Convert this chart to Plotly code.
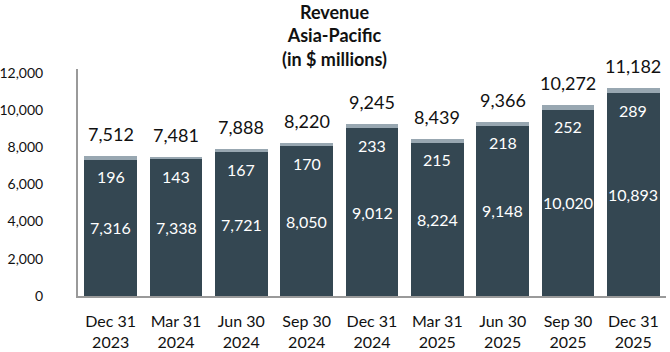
import plotly.graph_objects as go

categories = ["Dec 31<br>2023", "Mar 31<br>2024", "Jun 30<br>2024", "Sep 30<br>2024",
              "Dec 31<br>2024", "Mar 31<br>2025", "Jun 30<br>2025", "Sep 30<br>2025",
              "Dec 31<br>2025"]
base_values = [7316, 7338, 7721, 8050, 9012, 8224, 9148, 10020, 10893]
top_values = [196, 143, 167, 170, 233, 215, 218, 252, 289]
totals = [7512, 7481, 7888, 8220, 9245, 8439, 9366, 10272, 11182]
y_ticks = [0, 2000, 4000, 6000, 8000, 10000, 12000]

FONT = "Lato"
DARK = "#344752"
LIGHT = "#98A7B1"

fig = go.Figure()
fig.add_trace(go.Bar(
    x=categories, y=base_values, marker=dict(color=DARK, line=dict(width=0)),
    hoverinfo="skip",
))
fig.add_trace(go.Bar(
    x=categories, y=top_values, marker=dict(color=LIGHT, line=dict(width=0)),
    hoverinfo="skip",
))

for c, b, t, tot in zip(categories, base_values, top_values, totals):
    fig.add_annotation(x=c, y=b / 2, text=f"{b:,}", showarrow=False,
                       font=dict(family=FONT, size=16, color="white"))
    fig.add_annotation(x=c, y=b, text=f"{t}", showarrow=False, yshift=-17,
                       font=dict(family=FONT, size=16, color="white"))
    fig.add_annotation(x=c, y=tot, text=f"{tot:,}", showarrow=False,
                       yanchor="bottom", yshift=9,
                       font=dict(family=FONT, size=18, color="#111111"))

fig.add_annotation(xref="paper", yref="paper", x=0.437, y=1.0, yshift=70,
                   text="<b>Revenue<br>Asia-Pacific<br>(in $ millions)</b>",
                   showarrow=False, yanchor="top", align="center",
                   font=dict(family=FONT, size=18, color="#111111"))

fig.update_layout(
    width=670, height=352,
    margin=dict(l=78, r=4, t=69, b=56),
    barmode="stack", bargap=0.19, showlegend=False,
    plot_bgcolor="white", paper_bgcolor="white",
    xaxis=dict(showline=True, linecolor="#9a9a9a", linewidth=2,
               tickfont=dict(family=FONT, size=16, color="#111111"),
               ticks="", showgrid=False, ticklabelstandoff=10,
               automargin=False),
    yaxis=dict(range=[0, 12200], tickvals=y_ticks,
               ticktext=[f"{v:,}" for v in y_ticks],
               showline=True, linecolor="#9a9a9a", linewidth=2,
               showgrid=False, zeroline=False, ticks="",
               tickfont=dict(family=FONT, size=14, color="#111111"),
               ticklabelstandoff=30, automargin=False),
)

fig.write_html("out.html")
